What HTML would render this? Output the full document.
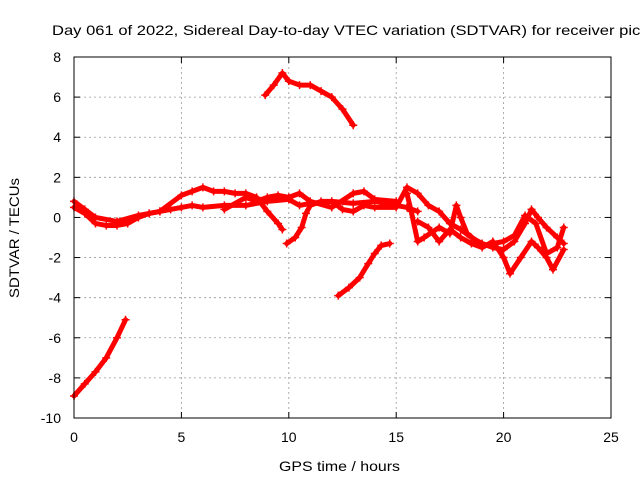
<!DOCTYPE html>
<html><head><meta charset="utf-8"><style>
body{margin:0;background:#fff;}
svg text{font-family:"Liberation Sans",sans-serif;font-size:14px;fill:#000;}
</style></head><body>
<svg width="640" height="480" id="chart">
<rect x="0" y="0" width="640" height="480" fill="#fff"/>
<text x="52" y="35" textLength="592" lengthAdjust="spacingAndGlyphs">Day 061 of 2022, Sidereal Day-to-day VTEC variation (SDTVAR) for receiver picl</text>
<text x="279" y="471" textLength="121" lengthAdjust="spacingAndGlyphs">GPS time / hours</text>
<text transform="translate(19,298) rotate(-90)" textLength="120" lengthAdjust="spacingAndGlyphs">SDTVAR / TECUs</text>
<g id="grid"></g><g id="ticks"></g><g id="series"></g>
<rect x="74" y="57" width="537" height="361" fill="none" stroke="#000" stroke-width="1"/>
</svg>
<script>
const xTicks=[0,5,10,15,20,25];
const yTicks=[8,6,4,2,0,-2,-4,-6,-8,-10];
const trackA=[[0,-8.9],[0.5,-8.3],[1,-7.7],[1.5,-7],[2,-6],[2.4,-5.1]];
const trackB=[[8.9,6.1],[9.3,6.6],[9.7,7.2],[10,6.8],[10.5,6.6],[11,6.6],[11.5,6.3],[12,6.0],[12.5,5.4],[13,4.6]];
const trackC=[[12.3,-3.9],[12.8,-3.5],[13.3,-3],[13.7,-2.3],[14,-1.8],[14.3,-1.4],[14.7,-1.3]];
const trackD=[[0,0.5],[0.5,0.2],[1,-0.3],[1.5,-0.4],[2,-0.4],[2.5,-0.3],[3,0],[3.5,0.2],[4,0.3],[4.5,0.4],[5,0.5],[5.5,0.6],[6,0.5],[7,0.6],[8,0.6],[9,0.8],[10,0.9],[10.5,0.6],[11,0.7],[12,0.8],[13,0.7],[14,0.8],[15,0.6],[15.5,0.5],[16,0.3]];
const trackE=[[0,0.8],[0.5,0.4],[1,0],[2,-0.2],[3,0.1],[4,0.3],[5,1.1],[5.5,1.3],[6,1.5],[6.5,1.3],[7,1.3],[7.5,1.2],[8,1.2],[8.5,1.0],[9,0.3],[9.5,-0.3],[9.7,-0.6]];
const trackF=[[7,0.4],[8,1.0],[8.5,0.8],[9,1.0],[9.5,1.1],[10,1.0],[10.5,1.2],[11,0.8],[12,0.5],[13,1.2],[13.5,1.3],[14,0.9],[15,0.8]];
const trackG=[[9.9,-1.3],[10.3,-1],[10.6,-0.5],[10.8,0.2],[11,0.6],[11.5,0.8],[12,0.8],[12.5,0.4],[13,0.3],[13.5,0.6],[14,0.5],[15,0.5],[15.5,1.5],[16,1.2],[16.5,0.6],[17,0.3],[17.5,-0.3],[18,-0.6],[18.5,-1],[19,-1.3],[19.5,-1.5],[20,-1.6],[20.5,-1.2],[21,-0.3],[21.3,0.4],[21.6,0],[22,-0.5],[22.5,-1],[22.8,-1.3]];
const trackH=[[16,-0.2],[16.5,-0.5],[17,-1.2],[17.5,-0.6],[18,-1],[18.5,-1.3],[19,-1.5],[19.5,-1.2],[20,-2],[20.3,-2.8],[20.8,-2],[21.3,-1.2],[21.6,-1.5],[22,-2],[22.3,-2.6],[22.8,-1.6]];
const trackI=[[15.5,1.2],[15.7,0.3],[16,-1.2],[16.3,-1],[17,-0.5],[17.5,-0.8],[17.8,0.6],[18,0],[18.3,-0.8],[19,-1.4],[20,-1.2],[20.5,-0.9],[21,0.1],[21.5,-0.3],[22,-1.8],[22.5,-1.5],[22.8,-0.5]];
const tracks=[trackA,trackB,trackC,trackD,trackE,trackF,trackG,trackH,trackI];
const X0=74,X1=611,Y0=418,Y1=57;
const sx=v=>X0+(v-0)/(25-0)*(X1-X0);
const sy=v=>Y0-(v-(-10))/(8-(-10))*(Y0-Y1);
const NS="http://www.w3.org/2000/svg";
const grid=document.getElementById('grid'),ticks=document.getElementById('ticks'),ser=document.getElementById('series');
function mk(t,a,p){const e=document.createElementNS(NS,t);for(const k in a)e.setAttribute(k,a[k]);p.appendChild(e);return e;}
xTicks.forEach(v=>{const x=sx(v);
 if(v>0&&v<25){const g=mk('line',{x1:x,x2:x,y1:Y1,y2:Y0,stroke:'#999','stroke-dasharray':'2,3','stroke-width':0.8},grid);
 
 }
 mk('line',{x1:x,x2:x,y1:Y0,y2:Y0-6,stroke:'#000'},ticks);mk('line',{x1:x,x2:x,y1:Y1,y2:Y1+6,stroke:'#000'},ticks);
 const t=mk('text',{x:x,y:Y0+24,'text-anchor':'middle'},ticks);t.textContent=v;
 
 });
yTicks.forEach(v=>{const y=sy(v);
 if(v>-10&&v<8){const g=mk('line',{x1:X0,x2:X1,y1:y,y2:y,stroke:'#999','stroke-dasharray':'2,3','stroke-width':0.8},grid);
 
 }
 mk('line',{x1:X0,x2:X0+6,y1:y,y2:y,stroke:'#000'},ticks);mk('line',{x1:X1,x2:X1-6,y1:y,y2:y,stroke:'#000'},ticks);
 const t=mk('text',{x:X0-13,y:y+5,'text-anchor':'end'},ticks);t.textContent=v;
 
 });
tracks.forEach((tr,i)=>{
 const g=mk('g',{},ser);
 
 
 mk('polyline',{points:tr.map(p=>sx(p[0])+','+sy(p[1])).join(' '),fill:'none',stroke:'#f00','stroke-width':5,'stroke-linejoin':'round','stroke-linecap':'round'},g);
 tr.forEach(p=>{const x=sx(p[0]),y=sy(p[1]);
  mk('path',{d:`M${x-4},${y}H${x+4}M${x},${y-4}V${y+4}`,stroke:'#f00','stroke-width':1.5},g);});
});
</script>
</body></html>
